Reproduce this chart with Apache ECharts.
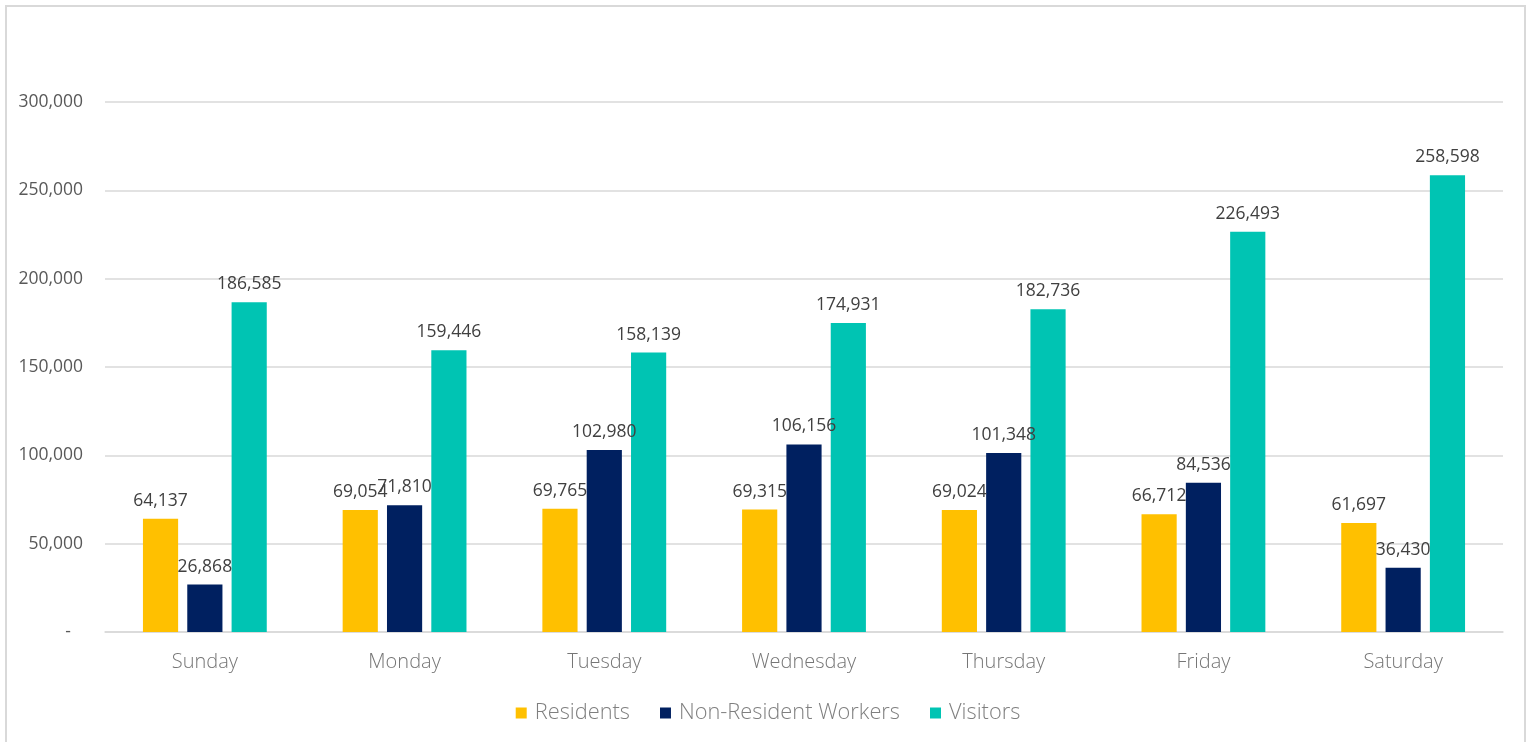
<!DOCTYPE html>
<html><head><meta charset="utf-8">
<script src="https://cdn.jsdelivr.net/npm/echarts@6/dist/echarts.min.js"></script>
<style>
html,body{margin:0;padding:0;background:#fff;}
#frame{position:absolute;left:5px;top:5px;width:1521px;height:745px;border:2px solid #d9d9d9;box-sizing:border-box;}
#c{position:absolute;left:0;top:0;width:1536px;height:742px;}
</style></head>
<body><div id="frame"></div><div id="c"></div>
<script>
const categories = ['Sunday','Monday','Tuesday','Wednesday','Thursday','Friday','Saturday'];
const residents = [64137, 69054, 69765, 69315, 69024, 66712, 61697];
const nonResidentWorkers = [26868, 71810, 102980, 106156, 101348, 84536, 36430];
const visitors = [186585, 159446, 158139, 174931, 182736, 226493, 258598];
const seriesNames = ['Residents','Non-Resident Workers','Visitors'];
const colors = ['#FFC000','#002060','#00C4B3'];
const FONT = '"Open Sans", sans-serif';

const chart = echarts.init(document.getElementById('c'));
const fmt = v => v.toLocaleString('en-US');
function mk(name, data, color){
  return {
    name, type:'bar', data, barGap:'26%', barCategoryGap:'38%',
    itemStyle:{color},
    label:{show:true, position:'top', distance:9, color:'#404040', fontSize:17.5, fontFamily:FONT,
      formatter:p=>fmt(p.value)}
  };
}
chart.setOption({
  animation:false,
  color:colors,
  grid:{left:105,right:33,top:102,bottom:110,containLabel:false},
  legend:{bottom:13,left:'center',itemWidth:11,itemHeight:11,itemGap:30,icon:'rect',
    textStyle:{color:'#7f7f7f',fontSize:21.8,fontFamily:FONT,fontWeight:300,padding:[0,0,0,3]},
    data:seriesNames},
  xAxis:{type:'category',data:categories,
    axisLine:{lineStyle:{color:'#d9d9d9',width:1.5}},axisTick:{show:false},
    axisLabel:{color:'#767676',fontSize:20,fontFamily:FONT,fontWeight:300,margin:20}},
  yAxis:{type:'value',min:0,max:300000,interval:50000,
    axisLine:{show:false},axisTick:{show:false},
    splitLine:{lineStyle:{color:'#d9d9d9',width:1.5}},
    axisLabel:{color:'#595959',fontSize:17.5,fontFamily:FONT,margin:22,
      formatter:v=> v===0 ? '{z|-}' : fmt(v),
      rich:{z:{color:'#595959',fontSize:17.5,fontFamily:FONT,padding:[0,12,0,0]}}}},
  series:[mk(seriesNames[0],residents,colors[0]),mk(seriesNames[1],nonResidentWorkers,colors[1]),mk(seriesNames[2],visitors,colors[2])]
});
</script></body></html>
